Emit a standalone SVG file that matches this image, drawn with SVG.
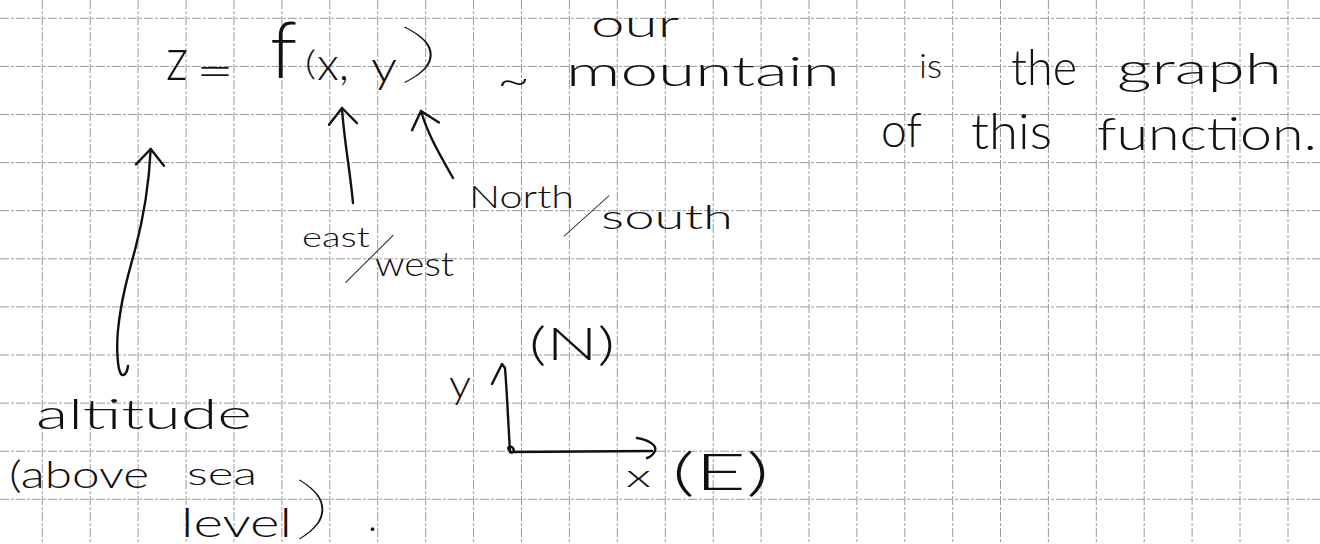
<svg xmlns="http://www.w3.org/2000/svg" width="1320" height="544" viewBox="0 0 1320 544">
<defs>
<style>
.g{fill:none;stroke:#9a9a9a;stroke-width:1;stroke-dasharray:9 2 3 2}
.h{font-family:Lato,"Liberation Sans",sans-serif;font-weight:300;fill:#111}
.t{font-family:Lato,"Liberation Sans",sans-serif;font-weight:200;fill:#111}
.ink{fill:none;stroke:#111;stroke-width:2.4;stroke-linecap:round;stroke-linejoin:round}
</style>
<marker id="vhead" viewBox="-22 -18 26 36" refX="0" refY="0" markerWidth="26" markerHeight="36" markerUnits="userSpaceOnUse" orient="auto">
<path d="M-16,-14 L0,0 L-16,14" fill="none" stroke="#111" stroke-width="2.4" stroke-linecap="round" stroke-linejoin="round"/>
</marker>
</defs>
<rect width="1320" height="544" fill="#fff"/>
<g id="grid">
<path class="g" d="M42.3,0V544M90.2,0V544M138.1,0V544M186.1,0V544M234,0V544M281.9,0V544M329.8,0V544M377.7,0V544M425.7,0V544M473.6,0V544M521.5,0V544M569.4,0V544M617.3,0V544M665.3,0V544M713.2,0V544M761.1,0V544M809,0V544M856.9,0V544M904.8,0V544M952.7,0V544M1000.5,0V544M1048.4,0V544M1096.3,0V544M1144.2,0V544M1192.1,0V544M1240,0V544M1288,0V544"/>
<path class="g" d="M0,18.3H1320M0,66.4H1320M0,114.5H1320M0,162.6H1320M0,210.7H1320M0,258.8H1320M0,306.9H1320M0,355H1320M0,403.1H1320M0,451.2H1320M0,499.3H1320"/>
</g>
<g id="connectors">
<path class="ink" marker-end="url(#vhead)" d="M128,366 C127,374 123,377 121,374 C117,368 116.5,345 118,330 C121,300 128,275 135,250 C143,220 149,185 150.7,149"/>
<path class="ink" marker-end="url(#vhead)" d="M353,203 C350,170 344,140 342,108"/>
<path class="ink" marker-end="url(#vhead)" d="M453,178 C440,155 428,135 421,111"/>
</g>
<g id="formula">
<text class="h" x="166" y="80" font-size="60" textLength="22" lengthAdjust="spacingAndGlyphs">z</text>
<text class="h" x="196" y="87" font-size="48" textLength="38" lengthAdjust="spacingAndGlyphs">=</text>
<text class="h" x="270" y="78" font-size="78" textLength="27" lengthAdjust="spacingAndGlyphs">f</text>
<text class="h" x="305" y="75" font-size="34" textLength="11" lengthAdjust="spacingAndGlyphs">(</text>
<text class="h" x="317" y="80" font-size="46" textLength="32" lengthAdjust="spacingAndGlyphs">x,</text>
<text class="h" x="371" y="82" font-size="44" textLength="26" lengthAdjust="spacingAndGlyphs">y</text>
<text class="t" x="396" y="75" font-size="64" textLength="48" lengthAdjust="spacingAndGlyphs">)</text>
</g>
<g id="caption">
<text class="h" x="497" y="96" font-size="46" textLength="33" lengthAdjust="spacingAndGlyphs">~</text>
<text class="h" x="591" y="37" font-size="38" textLength="88" lengthAdjust="spacingAndGlyphs">our</text>
<text class="h" x="566" y="86" font-size="42" textLength="274" lengthAdjust="spacingAndGlyphs">mountain</text>
<text class="h" x="919" y="78" font-size="34" textLength="23" lengthAdjust="spacingAndGlyphs">is</text>
<text class="h" x="1011" y="85" font-size="50" textLength="66" lengthAdjust="spacingAndGlyphs">the</text>
<text class="h" x="1117" y="84" font-size="44" textLength="165" lengthAdjust="spacingAndGlyphs">graph</text>
<text class="h" x="881" y="147" font-size="48" textLength="41" lengthAdjust="spacingAndGlyphs">of</text>
<text class="h" x="971" y="149" font-size="50" textLength="81" lengthAdjust="spacingAndGlyphs">this</text>
<text class="h" x="1097" y="150" font-size="46" textLength="220" lengthAdjust="spacingAndGlyphs">function.</text>
</g>
<g id="altitude-label">
<text class="h" x="36" y="429" font-size="42" textLength="216" lengthAdjust="spacingAndGlyphs">altitude</text>
<text class="h" x="9" y="488" font-size="38" textLength="140" lengthAdjust="spacingAndGlyphs">(above</text>
<text class="h" x="187" y="485" font-size="32" textLength="70" lengthAdjust="spacingAndGlyphs">sea</text>
<text class="h" x="181" y="537" font-size="40" textLength="111" lengthAdjust="spacingAndGlyphs">level</text>
<text class="t" x="292" y="531" font-size="68" textLength="42" lengthAdjust="spacingAndGlyphs">)</text>
<text class="h" x="368" y="531" font-size="40" textLength="9" lengthAdjust="spacingAndGlyphs">.</text>
</g>
<g id="eastwest-label">
<text class="h" x="302" y="247" font-size="28" textLength="68" lengthAdjust="spacingAndGlyphs">east</text>
<text class="t" x="0" y="0" font-size="82" text-anchor="middle" dominant-baseline="central" transform="translate(371,255) rotate(22)">/</text>
<text class="h" x="375" y="276" font-size="34" textLength="79" lengthAdjust="spacingAndGlyphs">west</text>
</g>
<g id="northsouth-label">
<text class="h" x="469" y="208" font-size="32" textLength="105" lengthAdjust="spacingAndGlyphs">North</text>
<text class="t" x="0" y="0" font-size="74" text-anchor="middle" dominant-baseline="central" transform="translate(588,213) rotate(25)">/</text>
<text class="h" x="601" y="229" font-size="34" textLength="132" lengthAdjust="spacingAndGlyphs">south</text>
</g>
<g id="axes">
<path class="ink" d="M492,384 L502,364 L505,368 C507,392 508,420 510,451"/>
<path class="ink" d="M510,451 C506,447 510,445 513,448 C515,451 512,454 510,452"/>
<path class="ink" d="M510,452 L652,451"/>
<path class="ink" d="M637,438 C650,440 657,446 655,451 C653,455 650,457 647,458"/>
<text class="h" x="449" y="398" font-size="40" textLength="22" lengthAdjust="spacingAndGlyphs">y</text>
<text class="h" x="529" y="360" font-size="46" textLength="86" lengthAdjust="spacingAndGlyphs">(N)</text>
<text class="h" x="626" y="487" font-size="32" textLength="25" lengthAdjust="spacingAndGlyphs">x</text>
<text class="h" x="672" y="490" font-size="52" textLength="97" lengthAdjust="spacingAndGlyphs">(E)</text>
</g>
</svg>
